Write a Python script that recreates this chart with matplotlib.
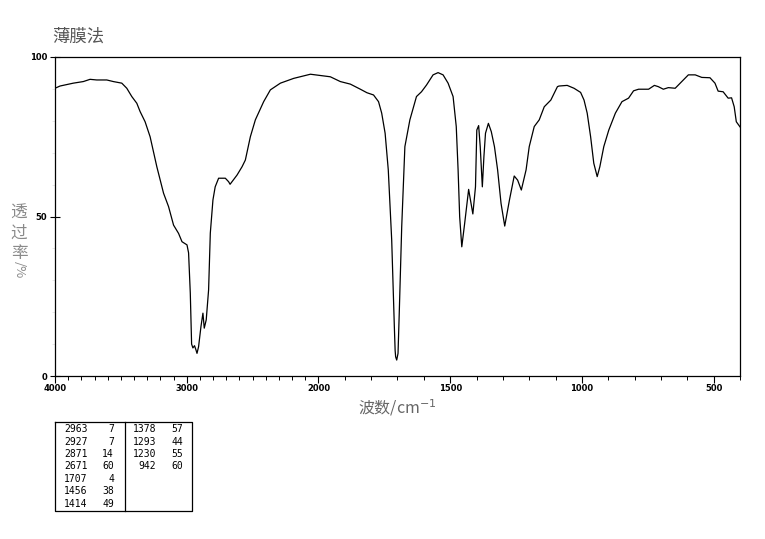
import matplotlib
matplotlib.use('Agg')
import numpy as np
import matplotlib.pyplot as plt
from matplotlib.ticker import FixedLocator, NullFormatter

# ---------------- data ----------------
wavenumber = [4000, 3962, 3861, 3785, 3734, 3683, 3607, 3557, 3493, 3455, 3417, 3379, 3354,
              3316, 3278, 3227, 3176, 3138, 3100, 3062, 3036, 2998, 2986, 2973, 2963, 2953,
              2941, 2930, 2922, 2910, 2892, 2877, 2867, 2852, 2834, 2821, 2801, 2784, 2758,
              2707, 2682, 2671, 2618, 2580, 2555, 2517, 2479, 2416, 2365, 2289, 2188, 2061,
              1955, 1917, 1879, 1841, 1816, 1791, 1772, 1760, 1747, 1735, 1722, 1716, 1712,
              1709, 1707, 1703, 1698, 1693, 1684, 1672, 1653, 1628, 1609, 1590, 1565, 1546,
              1527, 1508, 1489, 1477, 1470, 1464, 1456, 1445, 1430, 1414, 1404, 1399, 1392,
              1386, 1378, 1372, 1366, 1355, 1344, 1332, 1320, 1307, 1293, 1275, 1257, 1244,
              1230, 1212, 1200, 1181, 1162, 1143, 1118, 1093, 1087, 1056, 1030, 1005, 992,
              980, 967, 955, 942, 932, 917, 898, 873, 848, 823, 804, 785, 747, 725, 710, 691,
              672, 646, 621, 596, 570, 545, 514, 495, 483, 464, 445, 432, 422, 414, 400]
transmittance = [90.2, 90.9, 91.8, 92.3, 93.0, 92.8, 92.8, 92.3, 91.8, 90.2, 87.6, 85.5, 82.9,
                 79.7, 75.0, 65.6, 57.3, 53.1, 47.3, 44.7, 42.1, 41.1, 38.6, 26.0, 10.0, 8.8,
                 9.5, 8.2, 7.1, 9.2, 15.5, 19.7, 15.0, 17.6, 27.0, 44.8, 55.2, 59.3, 62.0,
                 62.0, 60.9, 60.1, 63.0, 65.6, 67.7, 75.0, 80.3, 86.0, 89.7, 91.8, 93.3, 94.6,
                 93.8, 92.3, 91.5, 89.9, 88.8, 88.1, 86.0, 82.4, 76.1, 64.6, 42.6, 25.9, 15.5,
                 8.0, 6.0, 5.0, 7.1, 20.7, 46.8, 71.9, 80.3, 87.6, 89.1, 91.2, 94.4, 95.1,
                 94.4, 91.8, 87.6, 78.2, 64.6, 49.9, 40.5, 47.9, 58.5, 50.8, 59.3, 77.1, 78.5,
                 71.9, 59.3, 68.8, 76.1, 79.2, 76.6, 71.9, 64.6, 54.1, 47.0, 55.2, 62.7, 61.4,
                 58.3, 64.6, 71.9, 78.2, 80.3, 84.4, 86.5, 90.7, 90.9, 91.1, 90.2, 88.9, 86.5,
                 82.4, 75.0, 66.7, 62.5, 65.6, 71.9, 77.1, 82.4, 86.0, 87.1, 89.4, 89.9, 89.9,
                 91.1, 90.7, 89.9, 90.4, 90.2, 92.3, 94.4, 94.4, 93.6, 93.5, 91.8, 89.3, 89.1,
                 87.1, 87.2, 84.4, 79.7, 78.1]

x_major = [4000, 3000, 2000, 1500, 1000, 500]
x_major_labels = ["4000", "3000", "2000", "1500", "1000", "500"]
y_major = [0, 50, 100]
y_major_labels = ["0", "50", "100"]

peak_wn_left = ["2963", "2927", "2871", "2671", "1707", "1456", "1414"]
peak_t_left = ["7", "7", "14", "60", "4", "38", "49"]
peak_wn_right = ["1378", "1293", "1230", "942"]
peak_t_right = ["57", "44", "55", "60"]

title_text = "薄膜法"
xlabel_text = "波数/cm$^{-1}$"

# ---------------- figure ----------------
W, H = 765, 539
fig = plt.figure(figsize=(W / 100, H / 100), dpi=100)
fig.patch.set_facecolor('white')

def fx(px):
    return px / W

def fy(py):
    return 1 - py / H

ax = fig.add_axes([fx(55), fy(376), fx(740) - fx(55), fy(57) - fy(376)])

def fwd(w):
    w = np.asarray(w, float)
    return np.where(w >= 2000, w / 2 + 1000, w)

def inv(u):
    u = np.asarray(u, float)
    return np.where(u >= 2000, (u - 1000) * 2, u)

ax.set_xscale('function', functions=(fwd, inv))
ax.plot(wavenumber, transmittance, color='black', linewidth=0.9)
ax.set_xlim(4000, 400)
ax.set_ylim(0, 100)

for s in ax.spines.values():
    s.set_linewidth(0.9)
    s.set_color('black')

ax.xaxis.set_major_locator(FixedLocator(x_major))
ax.set_xticklabels(x_major_labels, fontweight='bold')
minors = [w for w in range(400, 4001, 100) if w not in x_major]
ax.xaxis.set_minor_locator(FixedLocator(minors))
ax.xaxis.set_minor_formatter(NullFormatter())
ax.tick_params(axis='x', which='major', direction='out', length=5, width=0.8,
               labelsize=6, pad=1, colors='black')
ax.tick_params(axis='x', which='minor', direction='out', length=3, width=0.7)

ax.yaxis.set_major_locator(FixedLocator(y_major))
ax.set_yticklabels(y_major_labels, fontweight='bold')
ax.yaxis.set_minor_locator(FixedLocator([10, 20, 30, 40, 60, 70, 80, 90]))
ax.yaxis.set_minor_formatter(NullFormatter())
ax.tick_params(axis='y', which='major', direction='inout', length=7, width=0.8,
               labelsize=6, pad=2)
ax.tick_params(axis='y', which='minor', direction='out', length=2, width=0.5,
               color='#dddddd')

cjk = ['Noto Sans CJK SC', 'DejaVu Sans']

fig.text(fx(52), fy(37), title_text, fontsize=12.5, color='#555555', family=cjk,
         ha='left', va='center')
fig.text(fx(397), fy(408), xlabel_text, fontsize=11.5, color='#666666', family=cjk,
         ha='center', va='center')

# vertical y label (CJK upright, "/%" rotated)
for ch, py in zip(["透", "过", "率"], [213, 233, 253]):
    fig.text(fx(19), fy(py), ch, fontsize=12, color='#8a8a8a', family=cjk,
             ha='center', va='center')
fig.text(fx(19), fy(270), "/%", fontsize=9.5, color='#8a8a8a', family=cjk,
         ha='center', va='center', rotation=-90)

# peak table
tx0, tx1, tdiv, ty0, ty1 = 55, 192, 125, 422, 511
lw = 0.9
fig.add_artist(plt.Line2D([fx(tx0), fx(tx1), fx(tx1), fx(tx0), fx(tx0)],
                          [fy(ty0), fy(ty0), fy(ty1), fy(ty1), fy(ty0)],
                          color='black', linewidth=lw))
fig.add_artist(plt.Line2D([fx(tdiv), fx(tdiv)], [fy(ty0), fy(ty1)],
                          color='black', linewidth=lw))
row_y = [429, 442, 454, 466, 479, 491, 504]
mono = 'DejaVu Sans Mono'
fs_tab = 7
for i, (w, t) in enumerate(zip(peak_wn_left, peak_t_left)):
    fig.text(fx(64), fy(row_y[i]), w, fontsize=fs_tab, family=mono, ha='left', va='center')
    fig.text(fx(114), fy(row_y[i]), t, fontsize=fs_tab, family=mono, ha='right', va='center')
for i, (w, t) in enumerate(zip(peak_wn_right, peak_t_right)):
    fig.text(fx(156), fy(row_y[i]), w, fontsize=fs_tab, family=mono, ha='right', va='center')
    fig.text(fx(183), fy(row_y[i]), t, fontsize=fs_tab, family=mono, ha='right', va='center')

fig.savefig('out.png', dpi=100, facecolor='white')
